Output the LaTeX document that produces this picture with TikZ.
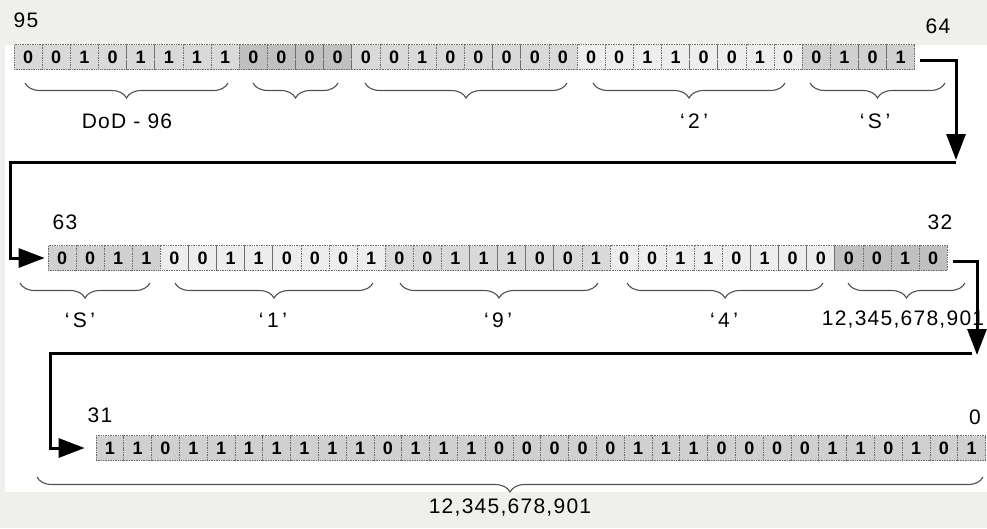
\documentclass[tikz,border=0pt]{standalone}
\usepackage{fontspec}
\setmainfont{Liberation Sans}
\usetikzlibrary{arrows.meta,decorations.pathreplacing,calc}
\definecolor{bgout}{HTML}{EFF0EB}
\definecolor{gA}{HTML}{D9D9D9}
\definecolor{gB}{HTML}{C0C0C0}
\definecolor{gC}{HTML}{EDEDED}
\definecolor{gD}{HTML}{D0D0D0}
\definecolor{cellline}{HTML}{6E6E6E}
\definecolor{brcol}{HTML}{505050}
\tikzset{
  bitcell/.style={rectangle, draw=cellline, densely dotted, line width=0.7pt, inner sep=0pt,
    minimum height=25pt, font=\fontsize{18}{18}\selectfont\bfseries},
  conn/.style={line width=3pt, black},
  tipv/.style={-{Triangle[length=26pt,width=19pt]}},
  brc/.style={draw=brcol, line width=1.1pt, decorate, decoration={brace, mirror, amplitude=15pt}},
  lbl/.style={inner sep=0pt, font=\fontsize{21}{21}\selectfont\addfontfeature{LetterSpace=6}},
}
\begin{document}
\begin{tikzpicture}[x=1pt,y=-1pt]
\useasboundingbox (0,0) rectangle (987,528);
\fill[bgout] (0,0) rectangle (987,528);
\fill[white] (5,45) rectangle (987,492);

% row 1 (bits 95..64)
\foreach \b/\c [count=\i from 0] in {0/gA,0/gA,1/gA,0/gA,1/gA,1/gA,1/gA,1/gA,
  0/gB,0/gB,0/gB,0/gB,
  0/gA,0/gA,1/gA,0/gA,0/gA,0/gA,0/gA,0/gA,
  0/gC,0/gC,1/gC,1/gC,0/gC,0/gC,1/gC,0/gC,
  0/gD,1/gD,0/gD,1/gD}
  \node[bitcell, fill=\c, minimum width=28.15pt] (r1b\i) at ({14+28.15*(\i+0.5)},57) {\b};

% row 2 (bits 63..32)
\foreach \b/\c [count=\i from 0] in {0/gD,0/gD,1/gD,1/gD,
  0/gC,0/gC,1/gC,1/gC,0/gC,0/gC,0/gC,1/gC,
  0/gA,0/gA,1/gA,1/gA,1/gA,0/gA,0/gA,1/gA,
  0/gC,0/gC,1/gC,1/gC,0/gC,1/gC,0/gC,0/gC,
  0/gB,0/gB,1/gB,0/gB}
  \node[bitcell, fill=\c, minimum width=28.1pt] (r2b\i) at ({48+28.1*(\i+0.5)},258) {\b};

% row 3 (bits 31..0)
\foreach \b [count=\i from 0] in {1,1,0,1,1,1,1,1,1,1,0,1,1,1,0,0,0,0,0,1,1,1,0,0,0,0,1,1,0,1,0,1}
  \node[bitcell, fill=gD, minimum width=27.8pt] (r3b\i) at ({96+27.8*(\i+0.5)},448) {\b};

% bit position labels
\node[lbl] (n95) at (26,20) {95};
\node[lbl] (n64) at (938,26) {64};
\node[lbl] (n63) at (65,222) {63};
\node[lbl] (n32) at (940,222) {32};
\node[lbl] (n31) at (100,415) {31};
\node[lbl] (n0) at (975,417) {0};

% braces row 1
\draw[brc] (25,83) -- (228,83);
\draw[brc] (253,83) -- (338,83);
\draw[brc] (365,83) -- (567,83);
\draw[brc] (593,83) -- (785,83);
\draw[brc] (810,83) -- (945,83);
\node[lbl] (lDoD) at (127,121) {DoD - 96};
\node[lbl] (l2) at (694,121) {‘\,2\,’};
\node[lbl] (lS1) at (875,121) {‘\,S\,’};

% braces row 2
\draw[brc] (20,283) -- (150,283);
\draw[brc] (175,283) -- (373,283);
\draw[brc] (400,283) -- (598,283);
\draw[brc] (627,283) -- (823,283);
\draw[brc] (848,283) -- (965,283);
\node[lbl] (lS2) at (80,320) {‘\,S\,’};
\node[lbl] (l1) at (273,320) {‘\,1\,’};
\node[lbl] (l9) at (498,320) {‘\,9\,’};
\node[lbl] (l4) at (724,320) {‘\,4\,’};
\node[lbl] (lnum1) at (903,320) {12,345,678,901};

% brace row 3
\draw[brc] (37,477) -- (983,477);
\node[lbl] (lnum2) at (510,508) {12,345,678,901};

% connectors
\coordinate (k1) at (956,160);
\coordinate (h1) at (956,162);
\coordinate (c1) at (10,162);
\draw[conn, tipv] ([xshift=5pt,yshift=-3pt]r1b31.east) -| (k1);
\draw[conn, tipv] (h1) -- (c1) |- ([xshift=-3pt]r2b0.west);

\coordinate (k2) at (977,355);
\coordinate (h2) at (972,353);
\coordinate (c2) at (50,353);
\draw[conn, tipv] ([xshift=5pt,yshift=-3pt]r2b31.east) -| (k2);
\draw[conn, tipv] (h2) -- (c2) |- ([xshift=-11pt]r3b0.west);
\end{tikzpicture}
\end{document}
